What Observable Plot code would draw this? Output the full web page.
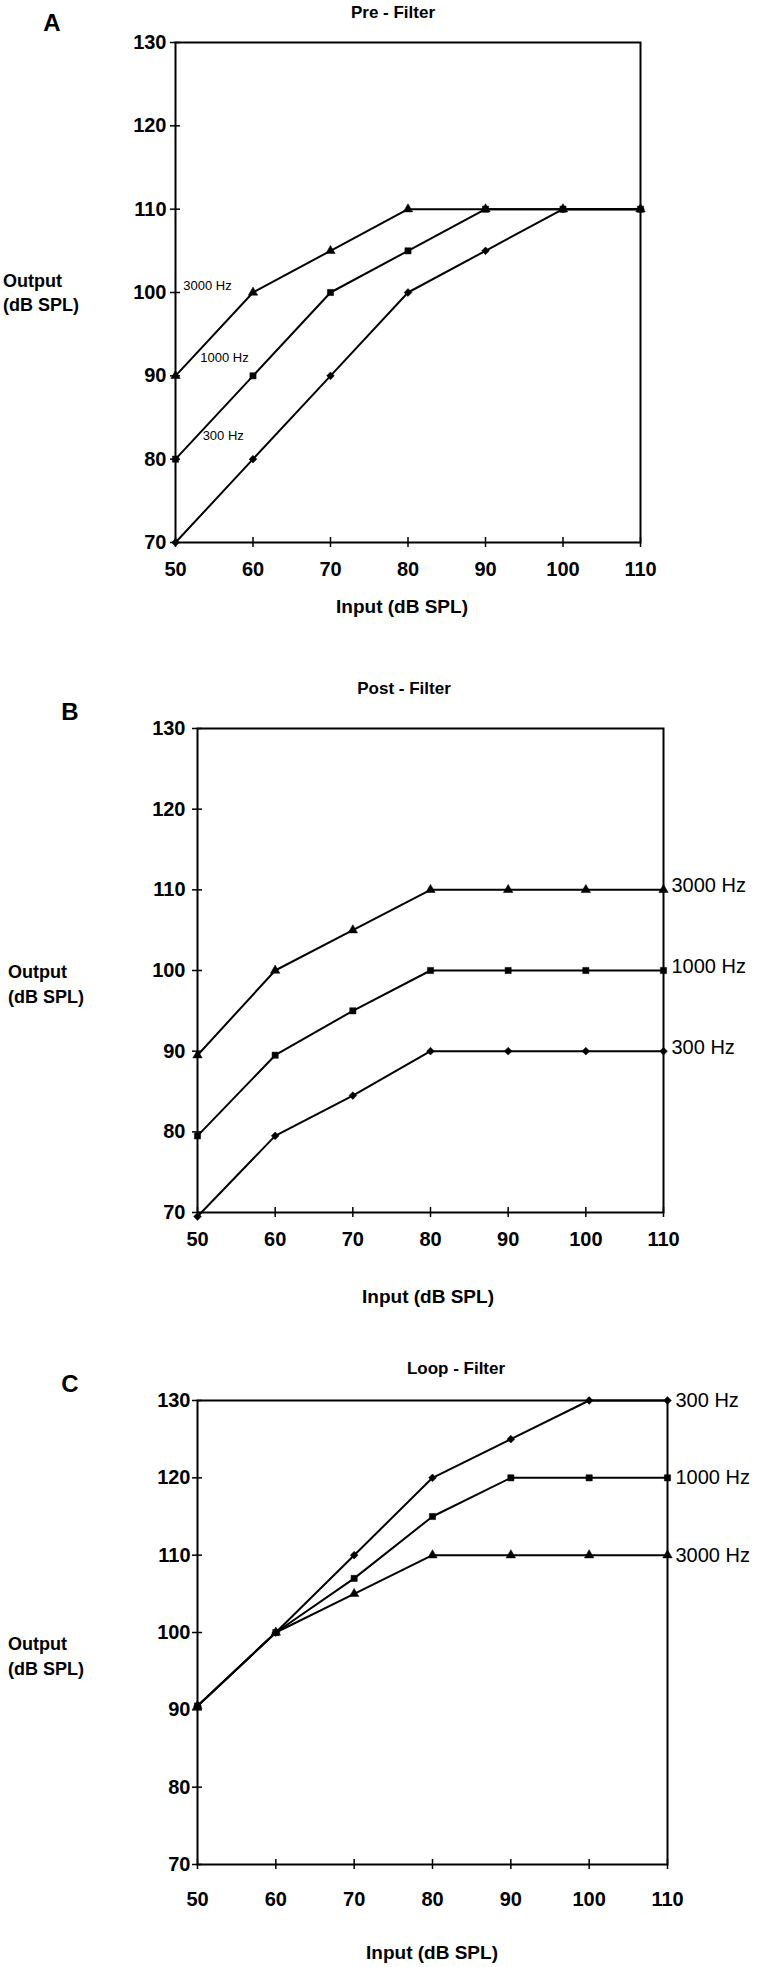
<!DOCTYPE html>
<html>
<head>
<meta charset="utf-8">
<script src="https://cdn.jsdelivr.net/npm/d3@7"></script>
<script src="https://cdn.jsdelivr.net/npm/@observablehq/plot@0.6"></script>
<style>
  body { margin: 0; background: #fff; }
  #root { position: relative; width: 757px; height: 1967px; font-family: "Liberation Sans", Arial, sans-serif; color: #000; background: #fff; }
  #root svg { position: absolute; left: 0; overflow: visible; }
  .t { position: absolute; white-space: nowrap; font-weight: bold; transform: translate(-50%, -50%); line-height: 1; }
  .ylab { position: absolute; white-space: nowrap; font-weight: bold; line-height: 1; }
</style>
</head>
<body>
<div id="root"></div>
<script>
// ---- data ----
const inputs = [50, 60, 70, 80, 90, 100, 110];            // Input (dB SPL)
const outputTicks = [70, 80, 90, 100, 110, 120, 130];     // Output (dB SPL) ticks
const freqs = ["3000 Hz", "1000 Hz", "300 Hz"];

// Panel A: Pre - Filter
const pre3000 = [90, 100, 105, 110, 110, 110, 110];
const pre1000 = [80, 90, 100, 105, 110, 110, 110];
const pre300  = [70, 80, 90, 100, 105, 110, 110];

// Panel B: Post - Filter
const post3000 = [89.5, 100, 105, 110, 110, 110, 110];
const post1000 = [79.5, 89.5, 95, 100, 100, 100, 100];
const post300  = [69.5, 79.5, 84.5, 90, 90, 90, 90];

// Panel C: Loop - Filter
const loop300  = [90.5, 100, 110, 120, 125, 130, 130];
const loop1000 = [90.5, 100, 107, 115, 120, 120, 120];
const loop3000 = [90.5, 100, 105, 110, 110, 110, 110];

// in-plot labels of panel A
const preLabels = [
  {freq: "3000 Hz", x: 51.0, y: 100.8},
  {freq: "1000 Hz", x: 53.2, y: 92.2},
  {freq: "300 Hz",  x: 53.5, y: 82.8}
];

function rows(seriesByFreq) {
  const out = [];
  for (const [freq, vals] of Object.entries(seriesByFreq)) {
    vals.forEach((v, i) => out.push({freq, input: inputs[i], output: v}));
  }
  return out;
}

const preData  = rows({"3000 Hz": pre3000,  "1000 Hz": pre1000,  "300 Hz": pre300});
const postData = rows({"3000 Hz": post3000, "1000 Hz": post1000, "300 Hz": post300});
const loopData = rows({"300 Hz": loop300,   "1000 Hz": loop1000, "3000 Hz": loop3000});

const root = document.getElementById("root");

function panel({data, top, height, mt, mb, ml, mr, yPad, xPad, endLabels, endDy, inLabels}) {
  const marks = [
    Plot.frame({stroke: "black", strokeWidth: 2}),
    Plot.ruleX(inputs, {x: d => d, y1: 70, y2: 70, insetTop: -5, insetBottom: -5, stroke: "black", strokeWidth: 1.5}),
    Plot.ruleY(outputTicks, {y: d => d, x1: 50, x2: 50, insetLeft: -5, insetRight: -5, stroke: "black", strokeWidth: 1.5}),
    Plot.axisX(inputs, {tickSize: 0, tickPadding: xPad, label: null, fontSize: 20, fontWeight: "bold"}),
    Plot.axisY(outputTicks, {tickSize: 0, tickPadding: yPad, label: null, fontSize: 20, fontWeight: "bold"}),
    Plot.line(data, {x: "input", y: "output", z: "freq", stroke: "black", strokeWidth: 2}),
    Plot.dot(data, {x: "input", y: "output", symbol: "freq", fill: "black", stroke: "black", strokeWidth: 0.5, r: 3.5})
  ];
  if (endLabels) {
    marks.push(Plot.text(data, Plot.selectLast({x: "input", y: "output", z: "freq", text: "freq",
      textAnchor: "start", dx: 8, dy: endDy, fontSize: 20, fontWeight: "normal", fill: "black"})));
  }
  if (inLabels) {
    marks.push(Plot.text(inLabels, {x: "x", y: "y", text: "freq", textAnchor: "start",
      fontSize: 13, fontWeight: "normal", fill: "black"}));
  }
  const svg = Plot.plot({
    width: 757,
    height,
    marginTop: mt, marginBottom: mb, marginLeft: ml, marginRight: mr,
    x: {domain: [50, 110], axis: null},
    y: {domain: [70, 130], axis: null},
    symbol: {domain: freqs, range: ["triangle", "square", "diamond2"]},
    style: {fontFamily: "Liberation Sans, Arial, sans-serif", fontSize: "20px", fontWeight: "bold", background: "transparent", color: "black", overflow: "visible"},
    marks
  });
  svg.style.top = top + "px";
  root.appendChild(svg);
}

panel({data: preData,  top: 0,    height: 640, mt: 42,  mb: 98,  ml: 175, mr: 117, yPad: 9,  xPad: 19, endLabels: false, inLabels: preLabels});
panel({data: postData, top: 640,  height: 660, mt: 88,  mb: 88,  ml: 197, mr: 94,  yPad: 12, xPad: 19, endLabels: true, endDy: -4});
panel({data: loopData, top: 1300, height: 667, mt: 100, mb: 103, ml: 197, mr: 90,  yPad: 7,  xPad: 27, endLabels: true, endDy: 0});

// ---- text ----
function centered(text, x, y, size) {
  const d = document.createElement("div");
  d.className = "t"; d.textContent = text;
  d.style.left = x + "px"; d.style.top = y + "px"; d.style.fontSize = size + "px";
  root.appendChild(d);
}
function left(text, x, y, size) {
  const d = document.createElement("div");
  d.className = "ylab"; d.textContent = text;
  d.style.left = x + "px"; d.style.top = (y - size / 2) + "px"; d.style.fontSize = size + "px";
  root.appendChild(d);
}

centered("A", 52, 23, 24);
centered("Pre - Filter", 393, 12, 17);
left("Output", 3, 281, 18);
left("(dB SPL)", 3, 305, 18);
centered("Input (dB SPL)", 402, 606, 19);

centered("B", 70, 712, 24);
centered("Post - Filter", 404, 688, 17);
left("Output", 8, 972, 18);
left("(dB SPL)", 8, 997, 18);
centered("Input (dB SPL)", 428, 1296, 19);

centered("C", 70, 1384, 24);
centered("Loop - Filter", 456, 1368, 17);
left("Output", 8, 1644, 18);
left("(dB SPL)", 8, 1669, 18);
centered("Input (dB SPL)", 432, 1952, 19);
</script>
</body>
</html>
